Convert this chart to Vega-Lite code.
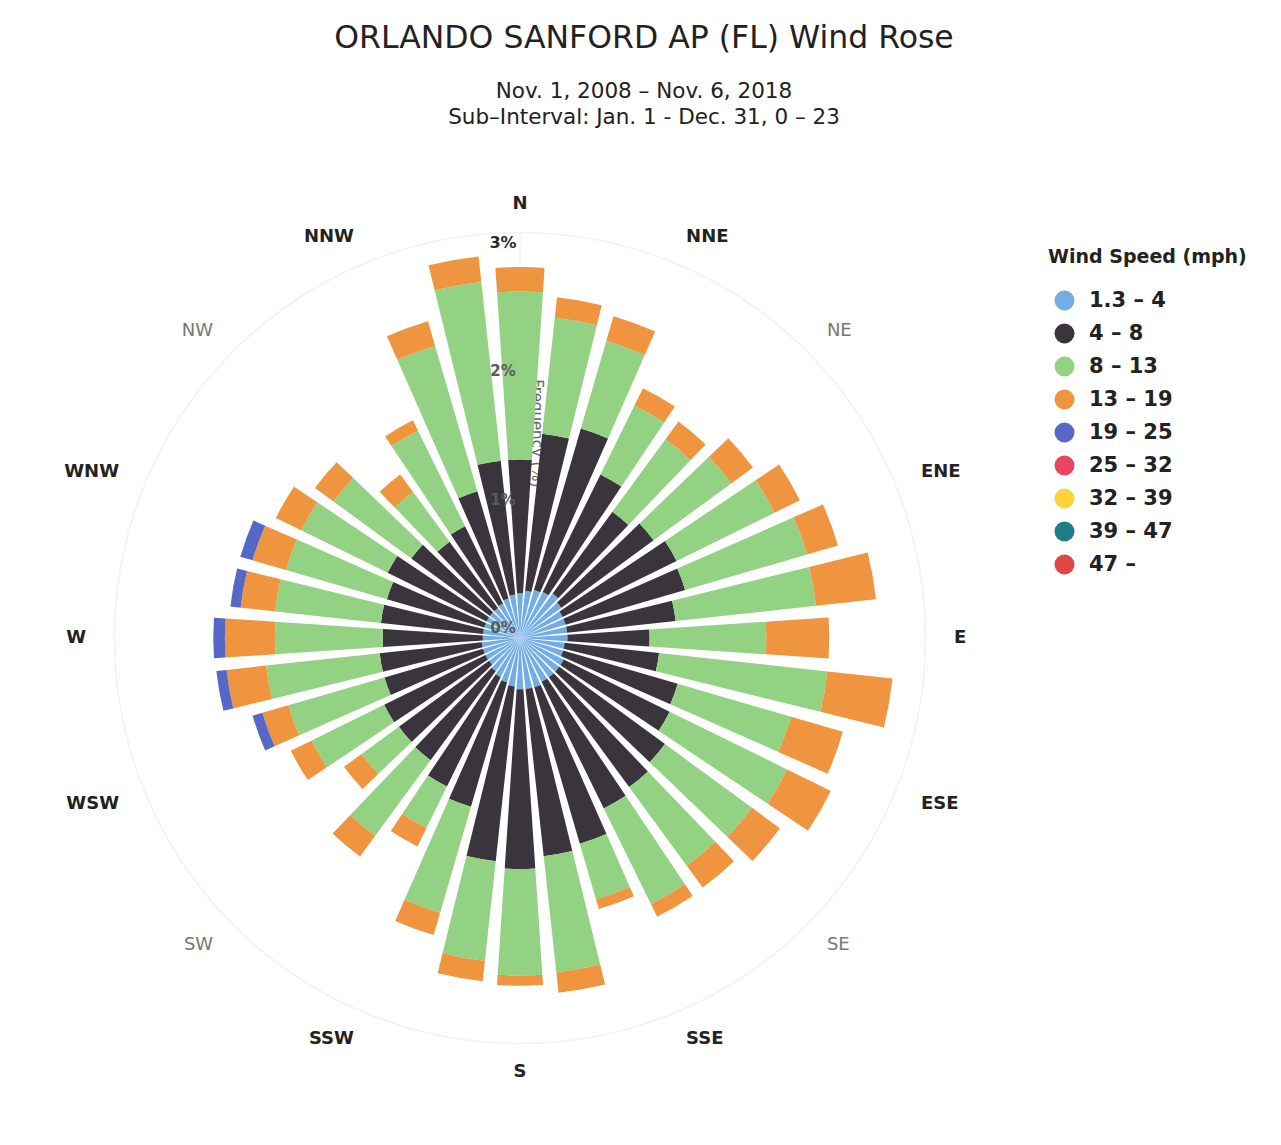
{
  "$schema": "https://vega.github.io/schema/vega-lite/v6.json",
  "width": 880,
  "height": 880,
  "autosize": {"type": "none"},
  "padding": {"left": 80, "top": 198, "right": 321, "bottom": 67},
  "background": "white",
  "title": {
    "text": "ORLANDO SANFORD AP (FL) Wind Rose",
    "subtitle": ["Nov. 1, 2008 – Nov. 6, 2018", "Sub–Interval: Jan. 1 - Dec. 31, 0 – 23"],
    "anchor": "middle",
    "dx": 124,
    "offset": 67,
    "font": "DejaVu Sans",
    "fontSize": 31.5,
    "fontWeight": "normal",
    "color": "#222222",
    "subtitleFont": "DejaVu Sans",
    "subtitleFontSize": 21.5,
    "subtitleColor": "#222222",
    "subtitleLineHeight": 26,
    "subtitlePadding": 26
  },
  "config": {"view": {"stroke": null}},
  "layer": [
    {
      "data": {"values": [{"t": "Frequency (%)", "p": 1.6}]},
      "mark": {"type": "text", "angle": 90, "font": "DejaVu Sans", "fontSize": 15, "color": "#666666", "align": "center", "baseline": "middle"},
      "encoding": {
        "theta": {"datum": 4.75, "type": "quantitative", "scale": {"type": "linear", "domain": [0, 360], "range": [0, 6.283185307]}},
        "radius": {"field": "p", "type": "quantitative", "scale": {"type": "linear", "domain": [0, 3], "range": [0, 385], "zero": true}},
        "text": {"field": "t"}
      }
    },
    {
      "data": {"values": [{"p": 3.16}]},
      "mark": {"type": "arc", "fill": null, "filled": false, "stroke": "#f2f2f2", "strokeWidth": 1.5},
      "encoding": {
        "theta": {"datum": 0, "type": "quantitative"},
        "theta2": {"datum": 360},
        "radius": {"field": "p", "type": "quantitative"}
      }
    },
    {
      "data": {"values": [
        {"d":0,"s":"1.3 – 4","k":1,"p":0.35},{"d":0,"s":"4 – 8","k":2,"p":1.04},{"d":0,"s":"8 – 13","k":3,"p":1.31},{"d":0,"s":"13 – 19","k":4,"p":0.19},
        {"d":10,"s":"1.3 – 4","k":1,"p":0.37},{"d":10,"s":"4 – 8","k":2,"p":1.23},{"d":10,"s":"8 – 13","k":3,"p":0.91},{"d":10,"s":"13 – 19","k":4,"p":0.16},
        {"d":20,"s":"1.3 – 4","k":1,"p":0.39},{"d":20,"s":"4 – 8","k":2,"p":1.31},{"d":20,"s":"8 – 13","k":3,"p":0.71},{"d":20,"s":"13 – 19","k":4,"p":0.20},
        {"d":30,"s":"1.3 – 4","k":1,"p":0.40},{"d":30,"s":"4 – 8","k":2,"p":1.02},{"d":30,"s":"8 – 13","k":3,"p":0.60},{"d":30,"s":"13 – 19","k":4,"p":0.15},
        {"d":40,"s":"1.3 – 4","k":1,"p":0.43},{"d":40,"s":"4 – 8","k":2,"p":0.79},{"d":40,"s":"8 – 13","k":3,"p":0.70},{"d":40,"s":"13 – 19","k":4,"p":0.17},
        {"d":50,"s":"1.3 – 4","k":1,"p":0.40},{"d":50,"s":"4 – 8","k":2,"p":0.89},{"d":50,"s":"8 – 13","k":3,"p":0.75},{"d":50,"s":"13 – 19","k":4,"p":0.21},
        {"d":60,"s":"1.3 – 4","k":1,"p":0.37},{"d":60,"s":"4 – 8","k":2,"p":0.99},{"d":60,"s":"8 – 13","k":3,"p":0.85},{"d":60,"s":"13 – 19","k":4,"p":0.22},
        {"d":70,"s":"1.3 – 4","k":1,"p":0.37},{"d":70,"s":"4 – 8","k":2,"p":0.97},{"d":70,"s":"8 – 13","k":3,"p":0.99},{"d":70,"s":"13 – 19","k":4,"p":0.25},
        {"d":80,"s":"1.3 – 4","k":1,"p":0.37},{"d":80,"s":"4 – 8","k":2,"p":0.85},{"d":80,"s":"8 – 13","k":3,"p":1.10},{"d":80,"s":"13 – 19","k":4,"p":0.47},
        {"d":90,"s":"1.3 – 4","k":1,"p":0.37},{"d":90,"s":"4 – 8","k":2,"p":0.64},{"d":90,"s":"8 – 13","k":3,"p":0.91},{"d":90,"s":"13 – 19","k":4,"p":0.49},
        {"d":100,"s":"1.3 – 4","k":1,"p":0.35},{"d":100,"s":"4 – 8","k":2,"p":0.74},{"d":100,"s":"8 – 13","k":3,"p":1.32},{"d":100,"s":"13 – 19","k":4,"p":0.51},
        {"d":110,"s":"1.3 – 4","k":1,"p":0.35},{"d":110,"s":"4 – 8","k":2,"p":0.93},{"d":110,"s":"8 – 13","k":3,"p":0.92},{"d":110,"s":"13 – 19","k":4,"p":0.42},
        {"d":120,"s":"1.3 – 4","k":1,"p":0.38},{"d":120,"s":"4 – 8","k":2,"p":0.92},{"d":120,"s":"8 – 13","k":3,"p":1.02},{"d":120,"s":"13 – 19","k":4,"p":0.38},
        {"d":130,"s":"1.3 – 4","k":1,"p":0.38},{"d":130,"s":"4 – 8","k":2,"p":1.02},{"d":130,"s":"8 – 13","k":3,"p":0.84},{"d":130,"s":"13 – 19","k":4,"p":0.27},
        {"d":140,"s":"1.3 – 4","k":1,"p":0.38},{"d":140,"s":"4 – 8","k":2,"p":1.06},{"d":140,"s":"8 – 13","k":3,"p":0.76},{"d":140,"s":"13 – 19","k":4,"p":0.21},
        {"d":150,"s":"1.3 – 4","k":1,"p":0.38},{"d":150,"s":"4 – 8","k":2,"p":1.10},{"d":150,"s":"8 – 13","k":3,"p":0.83},{"d":150,"s":"13 – 19","k":4,"p":0.11},
        {"d":160,"s":"1.3 – 4","k":1,"p":0.40},{"d":160,"s":"4 – 8","k":2,"p":1.27},{"d":160,"s":"8 – 13","k":3,"p":0.45},{"d":160,"s":"13 – 19","k":4,"p":0.08},
        {"d":170,"s":"1.3 – 4","k":1,"p":0.40},{"d":170,"s":"4 – 8","k":2,"p":1.31},{"d":170,"s":"8 – 13","k":3,"p":0.91},{"d":170,"s":"13 – 19","k":4,"p":0.16},
        {"d":180,"s":"1.3 – 4","k":1,"p":0.40},{"d":180,"s":"4 – 8","k":2,"p":1.40},{"d":180,"s":"8 – 13","k":3,"p":0.83},{"d":180,"s":"13 – 19","k":4,"p":0.08},
        {"d":190,"s":"1.3 – 4","k":1,"p":0.38},{"d":190,"s":"4 – 8","k":2,"p":1.37},{"d":190,"s":"8 – 13","k":3,"p":0.78},{"d":190,"s":"13 – 19","k":4,"p":0.16},
        {"d":200,"s":"1.3 – 4","k":1,"p":0.36},{"d":200,"s":"4 – 8","k":2,"p":1.01},{"d":200,"s":"8 – 13","k":3,"p":0.86},{"d":200,"s":"13 – 19","k":4,"p":0.18},
        {"d":210,"s":"1.3 – 4","k":1,"p":0.34},{"d":210,"s":"4 – 8","k":2,"p":0.95},{"d":210,"s":"8 – 13","k":3,"p":0.36},{"d":210,"s":"13 – 19","k":4,"p":0.16},
        {"d":220,"s":"1.3 – 4","k":1,"p":0.32},{"d":220,"s":"4 – 8","k":2,"p":0.86},{"d":220,"s":"8 – 13","k":3,"p":0.73},{"d":220,"s":"13 – 19","k":4,"p":0.20},
        {"d":230,"s":"1.3 – 4","k":1,"p":0.30},{"d":230,"s":"4 – 8","k":2,"p":0.87},{"d":230,"s":"8 – 13","k":3,"p":0.36},{"d":230,"s":"13 – 19","k":4,"p":0.17},
        {"d":240,"s":"1.3 – 4","k":1,"p":0.30},{"d":240,"s":"4 – 8","k":2,"p":0.88},{"d":240,"s":"8 – 13","k":3,"p":0.63},{"d":240,"s":"13 – 19","k":4,"p":0.18},
        {"d":250,"s":"1.3 – 4","k":1,"p":0.30},{"d":250,"s":"4 – 8","k":2,"p":0.80},{"d":250,"s":"8 – 13","k":3,"p":0.78},{"d":250,"s":"13 – 19","k":4,"p":0.21},{"d":250,"s":"19 – 25","k":5,"p":0.08},
        {"d":260,"s":"1.3 – 4","k":1,"p":0.30},{"d":260,"s":"4 – 8","k":2,"p":0.80},{"d":260,"s":"8 – 13","k":3,"p":0.89},{"d":260,"s":"13 – 19","k":4,"p":0.31},{"d":260,"s":"19 – 25","k":5,"p":0.08},
        {"d":270,"s":"1.3 – 4","k":1,"p":0.29},{"d":270,"s":"4 – 8","k":2,"p":0.78},{"d":270,"s":"8 – 13","k":3,"p":0.84},{"d":270,"s":"13 – 19","k":4,"p":0.39},{"d":270,"s":"19 – 25","k":5,"p":0.09},
        {"d":280,"s":"1.3 – 4","k":1,"p":0.29},{"d":280,"s":"4 – 8","k":2,"p":0.80},{"d":280,"s":"8 – 13","k":3,"p":0.83},{"d":280,"s":"13 – 19","k":4,"p":0.27},{"d":280,"s":"19 – 25","k":5,"p":0.08},
        {"d":290,"s":"1.3 – 4","k":1,"p":0.29},{"d":290,"s":"4 – 8","k":2,"p":0.79},{"d":290,"s":"8 – 13","k":3,"p":0.82},{"d":290,"s":"13 – 19","k":4,"p":0.27},{"d":290,"s":"19 – 25","k":5,"p":0.10},
        {"d":300,"s":"1.3 – 4","k":1,"p":0.29},{"d":300,"s":"4 – 8","k":2,"p":0.86},{"d":300,"s":"8 – 13","k":3,"p":0.75},{"d":300,"s":"13 – 19","k":4,"p":0.22},
        {"d":310,"s":"1.3 – 4","k":1,"p":0.29},{"d":310,"s":"4 – 8","k":2,"p":0.76},{"d":310,"s":"8 – 13","k":3,"p":0.75},{"d":310,"s":"13 – 19","k":4,"p":0.18},
        {"d":320,"s":"1.3 – 4","k":1,"p":0.29},{"d":320,"s":"4 – 8","k":2,"p":0.64},{"d":320,"s":"8 – 13","k":3,"p":0.48},{"d":320,"s":"13 – 19","k":4,"p":0.17},
        {"d":330,"s":"1.3 – 4","k":1,"p":0.30},{"d":330,"s":"4 – 8","k":2,"p":0.67},{"d":330,"s":"8 – 13","k":3,"p":0.83},{"d":330,"s":"13 – 19","k":4,"p":0.09},
        {"d":340,"s":"1.3 – 4","k":1,"p":0.32},{"d":340,"s":"4 – 8","k":2,"p":0.87},{"d":340,"s":"8 – 13","k":3,"p":1.18},{"d":340,"s":"13 – 19","k":4,"p":0.20},
        {"d":350,"s":"1.3 – 4","k":1,"p":0.34},{"d":350,"s":"4 – 8","k":2,"p":1.05},{"d":350,"s":"8 – 13","k":3,"p":1.40},{"d":350,"s":"13 – 19","k":4,"p":0.20}
      ]},
      "transform": [
        {"stack": "p", "groupby": ["d"], "sort": [{"field": "k", "order": "ascending"}], "as": ["r0", "r1"]}
      ],
      "mark": {"type": "arc", "thetaOffset": -0.0663, "theta2Offset": 0.0663, "stroke": null},
      "encoding": {
        "theta": {"field": "d", "type": "quantitative", "stack": null},
        "theta2": {"field": "d"},
        "radius": {"field": "r1", "type": "quantitative"},
        "radius2": {"field": "r0"},
        "color": {
          "field": "s",
          "type": "nominal",
          "sort": null,
          "scale": {
            "domain": ["1.3 – 4", "4 – 8", "8 – 13", "13 – 19", "19 – 25", "25 – 32", "32 – 39", "39 – 47", "47 –"],
            "range": ["#72ade6", "#3a353d", "#93d283", "#f0953f", "#5568c8", "#e8465e", "#fdd33a", "#1f7d8a", "#e04545"]
          },
          "legend": {
            "title": "Wind Speed (mph)",
            "orient": "none",
            "legendX": 968,
            "legendY": 50,
            "padding": 0,
            "titleFont": "DejaVu Sans",
            "titleFontSize": 19,
            "titleFontWeight": "bold",
            "titleColor": "#222222",
            "titleLimit": 400,
            "titlePadding": 23,
            "labelFont": "DejaVu Sans",
            "labelFontSize": 21,
            "labelFontWeight": "bold",
            "labelColor": "#222222",
            "labelLimit": 300,
            "labelOffset": 14,
            "symbolType": "circle",
            "symbolSize": 400,
            "symbolStrokeWidth": 0,
            "symbolOffset": 6,
            "rowPadding": 11
          }
        }
      }
    },
    {
      "data": {"values": [{"p": 0, "t": "0%"}, {"p": 1, "t": "1%"}, {"p": 2, "t": "2%"}]},
      "mark": {"type": "text", "dx": -17, "dy": -10, "font": "DejaVu Sans", "fontSize": 15, "fontWeight": "bold", "color": "#5a5a5a", "align": "center", "baseline": "middle"},
      "encoding": {
        "theta": {"datum": 0, "type": "quantitative"},
        "radius": {"field": "p", "type": "quantitative"},
        "text": {"field": "t"}
      }
    },
    {
      "data": {"values": [{"p": 3, "t": "3%"}]},
      "mark": {"type": "text", "dx": -17, "dy": -10, "font": "DejaVu Sans", "fontSize": 16, "fontWeight": "bold", "color": "#2a2a2a", "align": "center", "baseline": "middle"},
      "encoding": {
        "theta": {"datum": 0, "type": "quantitative"},
        "radius": {"field": "p", "type": "quantitative"},
        "text": {"field": "t"}
      }
    },
    {
      "data": {"name": "compass", "values": [
        {"name": "N", "deg": 0}, {"name": "NNE", "deg": 22.5}, {"name": "NE", "deg": 45}, {"name": "ENE", "deg": 67.5},
        {"name": "E", "deg": 90}, {"name": "ESE", "deg": 112.5}, {"name": "SE", "deg": 135}, {"name": "SSE", "deg": 157.5},
        {"name": "S", "deg": 180}, {"name": "SSW", "deg": 202.5}, {"name": "SW", "deg": 225}, {"name": "WSW", "deg": 247.5},
        {"name": "W", "deg": 270}, {"name": "WNW", "deg": 292.5}, {"name": "NW", "deg": 315}, {"name": "NNW", "deg": 337.5}
      ]},
      "layer": [
        {
          "transform": [{"filter": {"field": "name", "oneOf": ["N", "S"]}}],
          "mark": {"type": "text", "font": "DejaVu Sans", "fontSize": 18, "fontWeight": "bold", "color": "#222222", "align": "center", "baseline": "middle"},
          "encoding": {
            "theta": {"field": "deg", "type": "quantitative"},
            "radius": {"value": 434},
            "text": {"field": "name"}
          }
        },
        {
          "transform": [{"filter": {"field": "name", "oneOf": ["NNE", "ENE", "E", "ESE", "SSE"]}}],
          "mark": {"type": "text", "font": "DejaVu Sans", "fontSize": 18, "fontWeight": "bold", "color": "#222222", "align": "left", "baseline": "middle"},
          "encoding": {
            "theta": {"field": "deg", "type": "quantitative"},
            "radius": {"value": 434},
            "text": {"field": "name"}
          }
        },
        {
          "transform": [{"filter": {"field": "name", "oneOf": ["SSW", "WSW", "W", "WNW", "NNW"]}}],
          "mark": {"type": "text", "font": "DejaVu Sans", "fontSize": 18, "fontWeight": "bold", "color": "#222222", "align": "right", "baseline": "middle"},
          "encoding": {
            "theta": {"field": "deg", "type": "quantitative"},
            "radius": {"value": 434},
            "text": {"field": "name"}
          }
        },
        {
          "transform": [{"filter": {"field": "name", "oneOf": ["NE", "SE"]}}],
          "mark": {"type": "text", "font": "DejaVu Sans", "fontSize": 18, "fontWeight": "normal", "color": "#777777", "align": "left", "baseline": "middle"},
          "encoding": {
            "theta": {"field": "deg", "type": "quantitative"},
            "radius": {"value": 434},
            "text": {"field": "name"}
          }
        },
        {
          "transform": [{"filter": {"field": "name", "oneOf": ["SW", "NW"]}}],
          "mark": {"type": "text", "font": "DejaVu Sans", "fontSize": 18, "fontWeight": "normal", "color": "#777777", "align": "right", "baseline": "middle"},
          "encoding": {
            "theta": {"field": "deg", "type": "quantitative"},
            "radius": {"value": 434},
            "text": {"field": "name"}
          }
        }
      ]
    }
  ]
}
